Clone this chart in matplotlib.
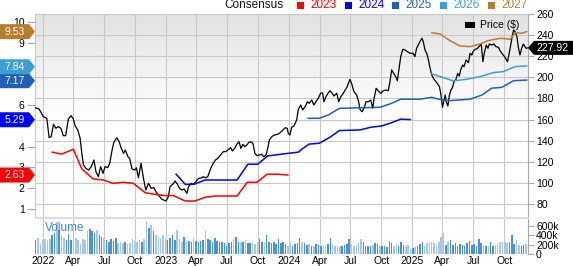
import numpy as np
import pandas as pd
import matplotlib
matplotlib.use("Agg")
import matplotlib.pyplot as plt
import matplotlib.dates as mdates
from matplotlib.patches import Polygon, Rectangle
from matplotlib.colors import LinearSegmentedColormap
from matplotlib.ticker import FuncFormatter
from matplotlib.transforms import blended_transform_factory

plt.rcParams['font.family'] = ['Liberation Sans', 'DejaVu Sans']

# ---- price (right axis, $) ----
price_dates = [
    "2021-12-08", "2021-12-20", "2022-01-02", "2022-01-12", "2022-01-19", "2022-01-25", "2022-02-01",
    "2022-02-08", "2022-02-15", "2022-02-23", "2022-03-02", "2022-03-09", "2022-03-17", "2022-03-25",
    "2022-04-01", "2022-04-06", "2022-04-14", "2022-04-21", "2022-04-26", "2022-05-01", "2022-05-08",
    "2022-05-16", "2022-05-24", "2022-06-01", "2022-06-07", "2022-06-14", "2022-06-21", "2022-06-28",
    "2022-07-04", "2022-07-12", "2022-07-18", "2022-07-24", "2022-07-30", "2022-08-08", "2022-08-15",
    "2022-08-21", "2022-08-28", "2022-09-02", "2022-09-10", "2022-09-15", "2022-09-22", "2022-09-30",
    "2022-10-05", "2022-10-11", "2022-10-19", "2022-10-26", "2022-11-02", "2022-11-10", "2022-11-18",
    "2022-11-26", "2022-12-02", "2022-12-09", "2022-12-19", "2023-01-01", "2023-01-08", "2023-01-13",
    "2023-01-21", "2023-01-28", "2023-02-04", "2023-02-10", "2023-02-17", "2023-02-24", "2023-03-04",
    "2023-03-09", "2023-03-16", "2023-03-24", "2023-04-01", "2023-04-08", "2023-04-15", "2023-04-21",
    "2023-04-28", "2023-05-05", "2023-05-13", "2023-05-21", "2023-05-28", "2023-06-04", "2023-06-12",
    "2023-06-20", "2023-06-27", "2023-07-04", "2023-07-12", "2023-07-17", "2023-07-24", "2023-07-30",
    "2023-08-06", "2023-08-11", "2023-08-17", "2023-08-23", "2023-08-29", "2023-09-04", "2023-09-10",
    "2023-09-16", "2023-09-22", "2023-09-28", "2023-10-05", "2023-10-12", "2023-10-18", "2023-10-25",
    "2023-10-30", "2023-11-04", "2023-11-11", "2023-11-19", "2023-11-29", "2023-12-07", "2023-12-14",
    "2023-12-21", "2023-12-27", "2023-12-30", "2024-01-04", "2024-01-09", "2024-01-16", "2024-01-24",
    "2024-01-29", "2024-02-05", "2024-02-11", "2024-02-18", "2024-02-25", "2024-03-01", "2024-03-09",
    "2024-03-15", "2024-03-21", "2024-03-28", "2024-04-04", "2024-04-10", "2024-04-14", "2024-04-20",
    "2024-04-27", "2024-05-02", "2024-05-07", "2024-05-14", "2024-05-22", "2024-05-28", "2024-06-03",
    "2024-06-09", "2024-06-15", "2024-06-22", "2024-06-30", "2024-07-05", "2024-07-12", "2024-07-20",
    "2024-07-26", "2024-07-30", "2024-08-05", "2024-08-11", "2024-08-17", "2024-08-24", "2024-08-31",
    "2024-09-06", "2024-09-10", "2024-09-16", "2024-09-22", "2024-09-30", "2024-10-07", "2024-10-15",
    "2024-10-22", "2024-10-27", "2024-11-01", "2024-11-08", "2024-11-14", "2024-11-18", "2024-11-24",
    "2024-11-28", "2024-12-04", "2024-12-11", "2024-12-18", "2024-12-26", "2025-01-04", "2025-01-09",
    "2025-01-14", "2025-01-19", "2025-01-24", "2025-01-30", "2025-02-03", "2025-02-08", "2025-02-13",
    "2025-02-18", "2025-02-21", "2025-02-28", "2025-03-07", "2025-03-15", "2025-03-23", "2025-03-27",
    "2025-04-01", "2025-04-06", "2025-04-09", "2025-04-12", "2025-04-17", "2025-04-21", "2025-04-26",
    "2025-05-01", "2025-05-05", "2025-05-11", "2025-05-16", "2025-05-21", "2025-05-25", "2025-05-31",
    "2025-06-04", "2025-06-10", "2025-06-17", "2025-06-22", "2025-06-27", "2025-07-02", "2025-07-08",
    "2025-07-14", "2025-07-20", "2025-07-25", "2025-07-30", "2025-08-03", "2025-08-09", "2025-08-14",
    "2025-08-18", "2025-08-25", "2025-09-01", "2025-09-07", "2025-09-14", "2025-09-19", "2025-09-24",
    "2025-10-01", "2025-10-07", "2025-10-11", "2025-10-17", "2025-10-24", "2025-10-29", "2025-11-03",
    "2025-11-08", "2025-11-12", "2025-11-17", "2025-11-22", "2025-11-27", "2025-12-05", "2025-12-10",
]
price_vals = [
    171.2, 170.0, 162.7, 161.2, 142.8, 143.8, 155.5,
    151.7, 153.3, 151.7, 144.7, 144.7, 160.5, 163.7,
    160.5, 154.2, 150.1, 142.3, 128.0, 117.0, 113.8,
    112.2, 115.4, 121.7, 110.6, 105.9, 115.4, 109.1,
    115.4, 114.4, 118.6, 129.6, 138.4, 142.8, 139.0,
    132.8, 128.0, 131.2, 124.8, 123.3, 113.2, 112.2,
    114.4, 104.9, 118.6, 104.4, 93.3, 99.6, 94.9,
    95.5, 91.7, 88.5, 84.7, 82.8, 87.0, 96.4,
    98.7, 101.8, 98.7, 94.9, 93.3, 94.2, 90.1,
    96.4, 99.6, 98.7, 101.8, 104.4, 104.4, 105.9,
    104.9, 105.9, 113.2, 118.6, 121.7, 123.3, 126.4,
    129.6, 129.6, 131.2, 133.4, 130.2, 132.8, 136.5,
    139.0, 132.8, 136.5, 134.3, 135.9, 138.4, 139.0,
    137.5, 128.0, 125.8, 126.4, 127.1, 124.8, 126.4,
    132.8, 140.6, 143.8, 145.4, 146.0, 147.9, 150.1,
    152.3, 151.7, 147.0, 145.4, 152.7, 153.9, 159.6,
    169.7, 173.8, 169.1, 172.2, 176.9, 175.4, 178.5,
    173.8, 176.9, 180.1, 184.9, 185.4, 176.9, 181.7,
    185.4, 187.3, 185.4, 182.3, 184.9, 176.9, 181.7,
    184.2, 187.3, 191.1, 198.1, 194.3, 186.4, 183.3,
    176.9, 169.7, 167.4, 170.7, 176.9, 176.9, 178.5,
    170.7, 180.1, 189.6, 187.3, 184.9, 187.3, 188.0,
    187.3, 195.9, 207.0, 203.2, 200.0, 196.8, 210.1,
    219.6, 226.6, 225.9, 224.3, 222.8, 222.8, 219.6,
    227.5, 230.6, 233.8, 237.0, 233.8, 225.9, 222.8,
    217.1, 211.7, 202.2, 198.1, 194.9, 191.1, 184.2,
    171.6, 179.2, 183.3, 176.9, 172.8, 182.3, 188.0,
    190.6, 195.9, 198.1, 203.8, 201.3, 207.0, 211.7,
    210.1, 216.4, 213.9, 222.8, 221.2, 225.2, 226.6,
    227.5, 229.7, 231.6, 214.8, 222.8, 230.6, 227.5,
    231.6, 230.6, 231.6, 229.0, 228.5, 225.2, 222.8,
    220.2, 217.1, 214.8, 224.3, 237.0, 244.8, 243.2,
    238.5, 229.0, 221.2, 227.5, 231.6, 227.5, 227.92,
]

# ---- EPS consensus (left axis) ----
years = ["2023", "2024", "2025", "2026", "2027"]
eps_colors = ["#ff0000", "#0000ff", "#2060b4", "#3a9fd6", "#b97c2f"]

eps23_dates = ["2022-01-28", "2022-02-25", "2022-04-01", "2022-04-26", "2022-05-30", "2022-06-29",
               "2022-07-28", "2022-08-27", "2022-09-26", "2022-10-31", "2022-11-29", "2022-12-29",
               "2023-01-23", "2023-02-27", "2023-03-28", "2023-04-27", "2023-05-27", "2023-07-31",
               "2023-08-30", "2023-09-28", "2023-10-28", "2023-11-27", "2023-12-29"]
eps23_vals = [3.73, 3.64, 3.87, 2.92, 2.44, 2.39, 2.23, 2.28, 2.23, 1.78, 1.70, 1.64,
              1.64, 1.38, 1.38, 1.56, 1.62, 1.62, 2.28, 2.28, 2.67, 2.67, 2.63]

eps24_dates = ["2023-01-31", "2023-02-27", "2023-03-24", "2023-04-27", "2023-07-31", "2023-09-01",
               "2023-09-30", "2023-10-30", "2024-01-02", "2024-01-29", "2024-02-08", "2024-03-01",
               "2024-03-31", "2024-05-02", "2024-05-30", "2024-07-30", "2024-08-31", "2024-10-02",
               "2024-11-01", "2024-11-28", "2024-12-26"]
eps24_vals = [2.67, 2.18, 2.18, 2.39, 2.39, 3.15, 3.15, 3.55, 3.68, 3.73, 3.87, 4.12,
              4.16, 4.45, 4.77, 4.80, 4.93, 4.99, 5.15, 5.32, 5.30]

eps25_dates = ["2024-02-27", "2024-03-31", "2024-04-27", "2024-05-30", "2024-09-27", "2024-10-27",
               "2024-11-28", "2025-01-24", "2025-02-28", "2025-03-20", "2025-04-23", "2025-06-22",
               "2025-07-27", "2025-08-25", "2025-09-24", "2025-10-29", "2025-12-07"]
eps25_vals = [5.36, 5.36, 5.52, 5.84, 5.89, 6.05, 6.28, 6.28, 6.37, 6.28, 6.21, 6.28,
              6.48, 6.81, 6.85, 7.17, 7.20]

eps26_dates = ["2025-02-28", "2025-03-30", "2025-05-03", "2025-06-12", "2025-07-22", "2025-08-30",
               "2025-09-29", "2025-11-03", "2025-12-07"]
eps26_vals = [7.50, 7.34, 7.16, 7.24, 7.37, 7.56, 7.61, 7.85, 7.88]

eps27_dates = ["2025-02-28", "2025-03-25", "2025-04-23", "2025-05-23", "2025-06-22", "2025-07-22",
               "2025-08-15", "2025-09-19", "2025-10-19", "2025-11-03", "2025-11-22", "2025-12-07"]
eps27_vals = [9.48, 9.42, 9.10, 8.84, 8.81, 8.94, 9.10, 9.21, 9.17, 9.48, 9.45, 9.53]

eps_current = [2.63, 5.29, 7.17, 7.84, 9.53]
eps_ticks = [1, 2, 3, 4, 6, 9, 10]   # 5, 7, 8 sit under the badges
last_price = 227.92

# ---- weekly volume (thousands) ----
vol_k = [
    300, 350, 210, 300, 320,
    300, 320, 395, 445, 680, 515, 395, 350, 300, 420, 300, 320, 330,
    300, 210, 320, 300, 515, 540, 495, 445, 515, 410, 370, 340, 300,
    265, 320, 280, 340, 230, 265, 230, 250, 210, 230, 320, 280, 250,
    300, 265, 320, 710, 550, 625, 495, 395, 370, 350, 410, 320, 300,
    340, 395, 300, 515, 320, 265, 370, 300, 280, 250, 340, 280, 265,
    280, 300, 495, 320, 300, 265, 350, 280, 250, 265, 230, 160, 240,
    265, 320, 365, 265, 265, 250, 300, 230, 230, 250, 210, 265,
    320, 265, 250, 395, 265, 230, 250, 210, 320, 230, 250, 210, 160,
    230, 160, 210, 230, 340, 250, 230, 195, 210, 180, 160, 210, 195,
    160, 180, 195, 210, 340, 210, 180, 160, 165, 160, 195, 210, 320,
    210, 180, 195, 230, 320, 265, 160, 180, 160, 195, 230, 210,
    160, 180, 160, 150, 280, 230, 180, 210, 160, 250, 195, 170, 190,
    110, 135, 150, 160, 210, 250, 160, 230, 265, 250, 230, 195, 265,
    370, 445, 195, 265, 290, 195, 230, 180, 210, 195, 180, 230, 280, 195,
    210, 180, 320, 230, 195, 180, 160, 250, 160, 195, 210, 250, 265, 250, 230, 250,
    410, 210, 300, 195, 160, 195, 210,
]

# ————— layout (pixels of the 573x266 picture) —————
W, H = 573.0, 266.0
L, R, T, B = 35.0, 527.7, 14.0, 217.0
VT, VB = 219.0, 254.0
GRID = "#c8c8c8"
AXC = "#a8a8a8"
FS = 7.5

fig = plt.figure(figsize=(W / 100, H / 100), dpi=100)
ax = fig.add_axes([L / W, 1 - B / H, (R - L) / W, (B - T) / H])
ax_eps = ax.twinx()
axv = fig.add_axes([L / W, 1 - VB / H, (R - L) / W, (VB - VT) / H], sharex=ax)

# gradient background
grad = np.linspace(0, 1, 256).reshape(-1, 1)
bg = LinearSegmentedColormap.from_list("bg", [(0, "white"), (0.5, "white"), (1, "#e2e2e2")])
ax.imshow(grad, cmap=bg, aspect="auto", origin="lower", extent=[0, 1, 0, 1],
          transform=ax.transAxes, zorder=0)

pdates = pd.to_datetime(price_dates)
ax.plot(pdates, price_vals, color="black", lw=0.9, zorder=3)

eps_series = [(eps23_dates, eps23_vals), (eps24_dates, eps24_vals), (eps25_dates, eps25_vals),
              (eps26_dates, eps26_vals), (eps27_dates, eps27_vals)]
for (d, v), col in zip(eps_series, eps_colors):
    ax_eps.plot(pd.to_datetime(d), v, color=col, lw=1.1)

# volume bars, darker when price rose that week
vdates = pd.date_range(end="2025-12-05", periods=len(vol_k), freq="7D")
pnum = mdates.date2num(pdates)
vp = np.interp(mdates.date2num(vdates), pnum, price_vals)
up = np.r_[True, np.diff(vp) >= 0]
vcol = np.where(up, "#4a92d4", "#a5c8ea")
axv.bar(vdates, np.array(vol_k) * 1000, width=4.5, color=vcol, lw=0)

xmin, xmax = pd.Timestamp("2021-12-08"), pd.Timestamp("2025-12-10")
quarters = mdates.MonthLocator(bymonth=[1, 4, 7, 10])


def qfmt(x, pos):
    d = mdates.num2date(x)
    return d.strftime("%Y") if d.month == 1 else d.strftime("%b")


# main axes
ax.set_xlim(xmin, xmax)
ax.set_ylim(67.7, 260)
ax.set_yticks(range(80, 261, 20))
ax.yaxis.tick_right()
ax.xaxis.set_major_locator(quarters)
ax.xaxis.set_major_formatter(FuncFormatter(qfmt))
ax.grid(True, color=GRID, lw=0.8)
ax.set_axisbelow(True)
ax.tick_params(axis="y", right=True, left=False, labelright=True, labelleft=False,
               length=4.5, width=0.8, color=AXC, pad=1.5, labelsize=FS)
ax.tick_params(axis="x", bottom=False, labelbottom=False)
for s in ["top", "bottom"]:
    ax.spines[s].set_visible(False)
ax.spines["left"].set_color(GRID)
ax.spines["right"].set_color(AXC)

ax_eps.set_ylim(0.61, 10.38)
ax_eps.set_yticks(eps_ticks)
ax_eps.yaxis.set_ticks_position("left")
ax_eps.tick_params(axis="y", left=True, right=False, labelleft=True, labelright=False,
                   length=6, width=0.8, color=AXC, pad=1.5, labelsize=FS)
for s in ax_eps.spines.values():
    s.set_visible(False)

# volume axes
axv.set_xlim(xmin, xmax)
axv.set_ylim(0, 745000)
axv.set_yticks([0, 200000, 400000, 600000])
axv.set_yticklabels(["0", "200k", "400k", "600k"])
axv.yaxis.tick_right()
axv.tick_params(axis="y", right=True, left=False, length=4.5, width=0.8, color=AXC,
                pad=1.5, labelsize=FS)
axv.tick_params(axis="x", length=0, pad=1.5, labelsize=FS)
axv.grid(True, axis="x", color=GRID, lw=0.8)
axv.set_axisbelow(True)
for s in ["top", "bottom", "left"]:
    axv.spines[s].set_visible(False)
axv.spines["right"].set_color(AXC)
axv.text(0.02, 0.73, "Volume", transform=axv.transAxes, color="#3d8bd0",
         fontsize=8.5, va="center", ha="left")

# separator between panels
fig.add_artist(Rectangle((L / W, 1 - 219.3 / H), (R - L) / W, 2.6 / H,
                         transform=fig.transFigure, color="#dcdcdc", lw=0))

# consensus badges on the left
tr_l = blended_transform_factory(fig.transFigure, ax_eps.transData)
hh = 7.5 / 20.77
for v, col in zip(eps_current, eps_colors):
    pts = [(0, v - hh), (29 / W, v - hh), (35 / W, v), (29 / W, v + hh), (0, v + hh)]
    ax_eps.add_patch(Polygon(pts, closed=True, transform=tr_l, color=col, lw=0,
                             clip_on=False, zorder=10))
    ax_eps.text(14.5 / W, v, f"{v:.2f}", transform=tr_l, color="white", fontsize=FS,
                ha="center", va="center", zorder=11, clip_on=False)

# last price badge on the right
tr_r = blended_transform_factory(fig.transFigure, ax.transData)
hr = 7 / 1.0556
pts = [(528 / W, last_price), (534 / W, last_price - hr), (1, last_price - hr),
       (1, last_price + hr), (534 / W, last_price + hr)]
ax.add_patch(Polygon(pts, closed=True, transform=tr_r, color="black", lw=0,
                     clip_on=False, zorder=10))
ax.text(552.5 / W, last_price, f"{last_price:.2f}", transform=tr_r, color="white",
        fontsize=FS, ha="center", va="center", zorder=11, clip_on=False)

# legend strip at the top
fig.text(224 / W, 1 - 5.5 / H, "Consensus", fontsize=8.5, va="center", ha="left", color="#111111")
sq_x = [297, 345, 392, 440, 488]
for x0, yr, col in zip(sq_x, years, eps_colors):
    fig.add_artist(Rectangle((x0 / W, 1 - 9 / H), 7 / W, 7 / H, transform=fig.transFigure,
                             color=col, lw=0))
    fig.text((x0 + 13) / W, 1 - 5.5 / H, yr, fontsize=8.5, va="center", ha="left", color=col)

# price legend inside the plot
fig.add_artist(Rectangle((465 / W, 1 - 27.5 / H), 10 / W, 5 / H, transform=fig.transFigure,
                         color="black", lw=0, zorder=5))
fig.text(480 / W, 1 - 25.5 / H, "Price ($)", fontsize=FS, va="center", ha="left", zorder=5)

fig.savefig("out.png", dpi=100)
